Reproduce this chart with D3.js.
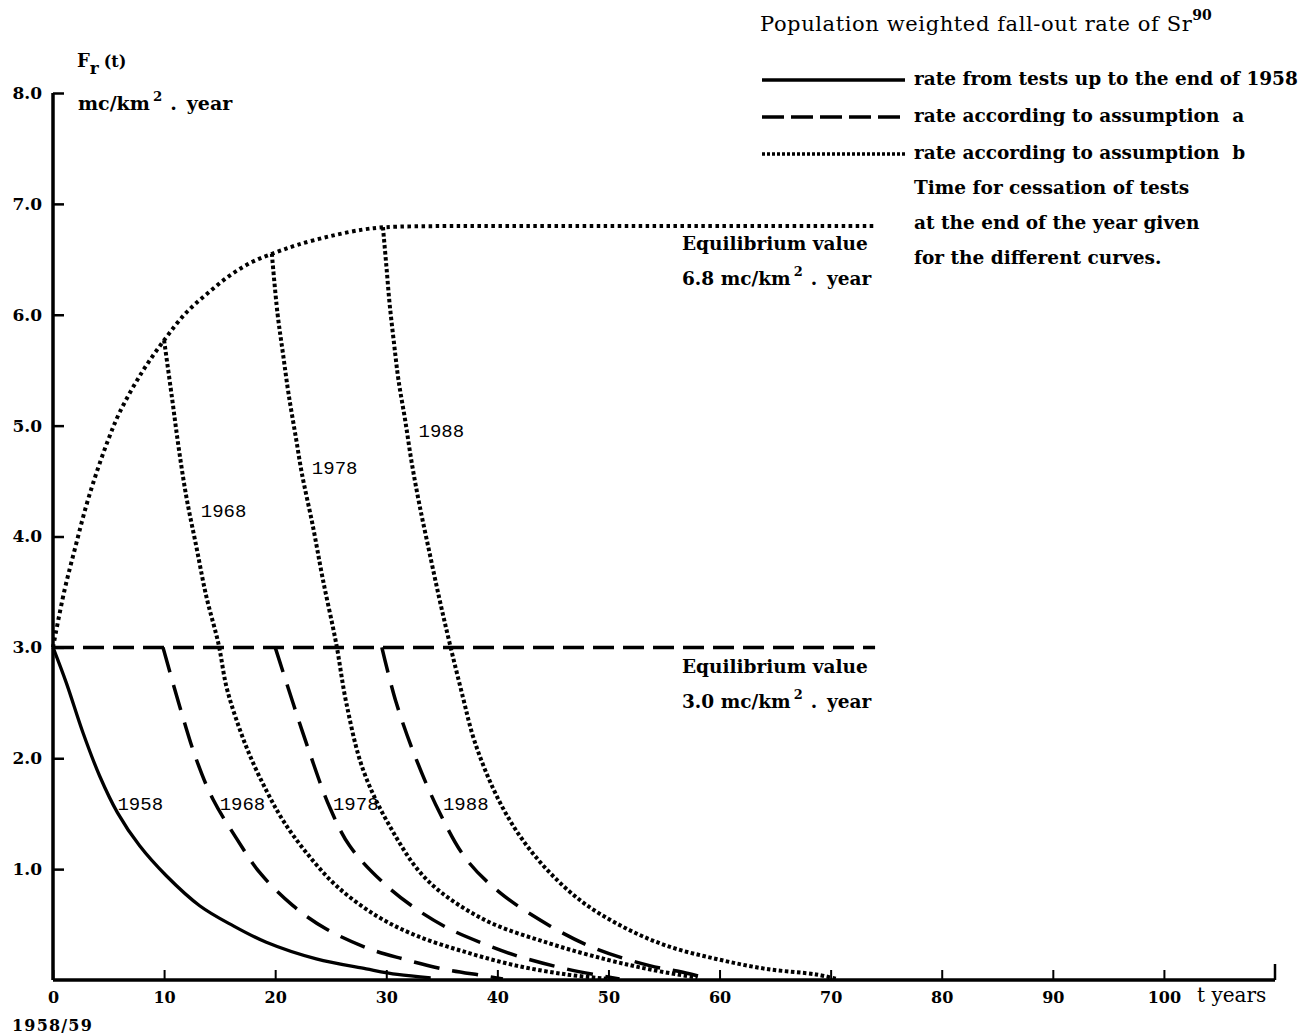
<!DOCTYPE html>
<html>
<head>
<meta charset="utf-8">
<script src="https://cdn.jsdelivr.net/npm/d3@7"></script>
<style>
    body { margin: 0; background: #fff; }
    svg { display: block; }
    text { fill: #000; }
</style>
</head>
<body>
<svg width="1304" height="1036"></svg>
<script>
// values: t = years after 1958/59, v = mc/km2 . year
var xTickValues = [0, 10, 20, 30, 40, 50, 60, 70, 80, 90, 100]
var yTickValues = [1, 2, 3, 4, 5, 6, 7, 8]

// tests up to the end of 1958 (solid)
var solid1958_t = [0, 1.2, 2.7, 4.2, 5.8, 7.8, 10.2, 13.2, 16.2, 19.2, 23.7, 28.2, 31, 34]
var solid1958_v = [3.0, 2.68, 2.23, 1.84, 1.51, 1.21, 0.94, 0.67, 0.49, 0.34, 0.19, 0.10, 0.05, 0.02]

// assumption a (dashed)
var aEquil_t = [0, 74]
var aEquil_v = [3.0, 3.0]
var a1968_t = [9.9, 11.4, 12.9, 14.4, 16.5, 18.6, 21.6, 24.6, 28.5, 31.5, 35.1, 38.7, 40.5]
var a1968_v = [3.0, 2.47, 1.99, 1.63, 1.28, 0.97, 0.67, 0.46, 0.28, 0.19, 0.10, 0.04, 0.01]
var a1978_t = [20.0, 21.6, 23.1, 24.9, 26.7, 29.7, 32.7, 35.7, 38.7, 41.7, 46.2, 49.2, 51]
var a1978_v = [3.0, 2.50, 2.05, 1.56, 1.21, 0.88, 0.64, 0.46, 0.33, 0.22, 0.10, 0.04, 0.01]
var a1988_t = [29.6, 30.9, 32.7, 34.8, 37.2, 40.2, 44.7, 48.9, 53.7, 56.7, 59]
var a1988_v = [3.0, 2.50, 1.99, 1.51, 1.09, 0.79, 0.49, 0.28, 0.13, 0.07, 0.01]

// assumption b (dotted)
var bRise_t = [0, 1, 2, 3, 4, 5, 6, 8, 10, 12, 14, 16, 18, 20, 22, 25, 28, 30, 35, 40, 50, 60, 74]
var bRise_v = [3.0, 3.5, 3.9, 4.28, 4.6, 4.88, 5.12, 5.48, 5.77, 6.02, 6.2, 6.36, 6.48, 6.56, 6.63, 6.71, 6.77, 6.79, 6.8, 6.8, 6.8, 6.8, 6.8]
var b1968_t = [10, 10.7, 11.3, 12, 12.9, 13.8, 14.9, 15.6, 16.5, 17.7, 19.2, 20.7, 22.8, 25.5, 29.1, 32.7, 37.2, 41.7, 46.2, 50]
var b1968_v = [5.77, 5.26, 4.81, 4.36, 3.91, 3.46, 3.03, 2.65, 2.35, 2.03, 1.71, 1.44, 1.15, 0.85, 0.58, 0.40, 0.25, 0.13, 0.05, 0.01]
var b1978_t = [19.7, 20.2, 20.7, 21.2, 21.9, 22.4, 23.4, 24.3, 25.5, 26.4, 27.9, 30.3, 33.6, 38.7, 44.7, 50, 54, 58]
var b1978_v = [6.55, 6.02, 5.65, 5.29, 4.87, 4.57, 4.09, 3.61, 3.03, 2.5, 1.9, 1.39, 0.91, 0.55, 0.33, 0.18, 0.09, 0.02]
var b1988_t = [29.7, 30.0, 30.3, 30.7, 31.1, 31.7, 32.3, 33.0, 33.9, 34.8, 35.7, 36.9, 37.8, 39.0, 40.5, 42.3, 44.7, 47.7, 51.3, 55.2, 59.7, 64.2, 68.7, 70.5]
var b1988_v = [6.79, 6.45, 6.1, 5.74, 5.41, 5.05, 4.66, 4.28, 3.85, 3.43, 3.04, 2.55, 2.2, 1.87, 1.55, 1.26, 0.97, 0.70, 0.48, 0.31, 0.19, 0.10, 0.05, 0.01]

// year labels on the curves
var labelText = ["1958", "1968", "1978", "1988", "1968", "1978", "1988"]
var labelT = [5.8, 15.0, 25.2, 35.1, 13.3, 23.3, 32.9]
var labelV = [1.53, 1.53, 1.53, 1.53, 4.18, 4.56, 4.9]

var serif = "DejaVu Serif"

function zip(ts, vs) {
    return ts.map(function (t, i) { return { t: t, v: vs[i] } })
}

var svg = d3.select("svg")

var x = d3.scaleLinear().domain([0, 110]).range([53, 1275])
var y = d3.scaleLinear().domain([0, 8]).range([980, 93])

var line = d3.line()
    .x(function (d) { return x(d.t) })
    .y(function (d) { return y(d.v) })
    .curve(d3.curveCatmullRom.alpha(0.5))

// axes
var yAxis = svg.append("g")
    .attr("transform", "translate(" + x(0) + ",0)")
    .call(d3.axisLeft(y).tickValues(yTickValues).tickSize(-11).tickSizeOuter(0)
        .tickPadding(11).tickFormat(d3.format(".1f")))
yAxis.select(".domain").attr("stroke-width", 3.5).attr("d", "M0," + y(0) + "V" + y(8))
yAxis.selectAll(".tick line").attr("stroke-width", 2.5)
yAxis.selectAll(".tick text").attr("font-family", serif).attr("font-weight", "bold").attr("font-size", 17)

var xAxis = svg.append("g")
    .attr("transform", "translate(0," + y(0) + ")")
    .call(d3.axisBottom(x).tickValues(xTickValues).tickSize(-10).tickSizeOuter(0)
        .tickPadding(12).tickFormat(d3.format("d")))
xAxis.select(".domain").attr("stroke-width", 3.5).attr("d", "M" + x(0) + ",0H" + x(110))
xAxis.selectAll(".tick line").attr("stroke-width", 2)
xAxis.selectAll(".tick text").attr("font-family", serif).attr("font-weight", "bold").attr("font-size", 16)

// closing tick at the end of the time axis
xAxis.append("line")
    .attr("x1", x(110)).attr("x2", x(110))
    .attr("y1", 0).attr("y2", -16)
    .attr("stroke", "#000").attr("stroke-width", 2.5)

svg.append("text")
    .attr("x", 1197).attr("y", 1002)
    .attr("font-family", serif).attr("font-size", 20)
    .text("t years")

svg.append("text")
    .attr("x", 12).attr("y", 1031)
    .attr("font-family", serif).attr("font-weight", "bold").attr("font-size", 16)
    .attr("letter-spacing", 1.2)
    .text("1958/59")

// y label
var fr = svg.append("text")
    .attr("x", 77).attr("y", 67)
    .attr("font-family", serif).attr("font-weight", "bold").attr("font-size", 18)
fr.append("tspan").text("F")
fr.append("tspan").attr("dy", 7).attr("font-size", 17).text("r")
fr.append("tspan").attr("dy", -7).attr("dx", 5).attr("font-size", 16).text("(t)")

function unitText(px, py, prefix, size) {
    var t = svg.append("text")
        .attr("x", px).attr("y", py)
        .attr("font-family", serif).attr("font-weight", "bold").attr("font-size", size)
    t.append("tspan").text(prefix + "mc/km")
    t.append("tspan").attr("dy", -9).attr("dx", 3).attr("font-size", size * 0.7).text("2")
    t.append("tspan").attr("dy", 9).attr("dx", 8).text(".")
    t.append("tspan").attr("dx", 10).text("year")
    return t
}
unitText(78, 110, "", 19)

// curves
function drawCurve(data, dash, width) {
    svg.append("path")
        .datum(data)
        .attr("fill", "none")
        .attr("stroke", "#000")
        .attr("stroke-width", width)
        .attr("stroke-dasharray", dash)
        .attr("d", line)
}

drawCurve(zip(solid1958_t, solid1958_v), null, 3.3)

drawCurve(zip(aEquil_t, aEquil_v), "21,9", 3.5)
drawCurve(zip(a1968_t, a1968_v), "26,13", 3.5)
drawCurve(zip(a1978_t, a1978_v), "26,13", 3.5)
drawCurve(zip(a1988_t, a1988_v), "26,13", 3.5)

drawCurve(zip(bRise_t, bRise_v), "3.5,3.5", 4)
drawCurve(zip(b1968_t, b1968_v), "3.5,2.5", 4)
drawCurve(zip(b1978_t, b1978_v), "3.5,2.5", 4)
drawCurve(zip(b1988_t, b1988_v), "3.5,2.5", 4)

svg.selectAll(".yearlabel")
    .data(labelText)
    .enter().append("text")
    .attr("class", "yearlabel")
    .attr("x", function (d, i) { return x(labelT[i]) })
    .attr("y", function (d, i) { return y(labelV[i]) })
    .attr("font-family", "Liberation Mono")
    .attr("font-size", 19)
    .text(function (d) { return d })

// equilibrium notes
svg.append("text")
    .attr("x", 682).attr("y", 250)
    .attr("font-family", serif).attr("font-weight", "bold").attr("font-size", 18.5)
    .text("Equilibrium value")
unitText(682, 285, "6.8 ", 18.5)
svg.append("text")
    .attr("x", 682).attr("y", 673)
    .attr("font-family", serif).attr("font-weight", "bold").attr("font-size", 18.5)
    .text("Equilibrium value")
unitText(682, 708, "3.0 ", 18.5)

// legend
var title = svg.append("text")
    .attr("x", 760).attr("y", 31)
    .attr("font-family", serif).attr("font-size", 21).attr("letter-spacing", 0.6)
title.append("tspan").text("Population weighted fall-out rate of Sr")
title.append("tspan").attr("dy", -11).attr("font-size", 14).attr("font-weight", "bold")
    .attr("letter-spacing", 0).text("90")

var legendDash = [null, "22,7", "3,2"]
var legendText = ["rate from tests up to the end of 1958",
    "rate according to assumption  a",
    "rate according to assumption  b"]
var legendY = [80, 117, 154]

legendText.forEach(function (txt, i) {
    svg.append("line")
        .attr("x1", 762).attr("x2", 905)
        .attr("y1", legendY[i]).attr("y2", legendY[i])
        .attr("stroke", "#000").attr("stroke-width", 3.5)
        .attr("stroke-dasharray", legendDash[i])
    svg.append("text")
        .attr("x", 914).attr("y", legendY[i] + 5)
        .attr("font-family", serif).attr("font-weight", "bold").attr("font-size", 18.5)
        .attr("xml:space", "preserve")
        .text(txt)
})

var noteText = ["Time for cessation of tests", "at the end of the year given", "for the different curves."]
noteText.forEach(function (txt, i) {
    svg.append("text")
        .attr("x", 914).attr("y", 194 + i * 35)
        .attr("font-family", serif).attr("font-weight", "bold").attr("font-size", 18.5)
        .text(txt)
})
</script>
</body>
</html>
